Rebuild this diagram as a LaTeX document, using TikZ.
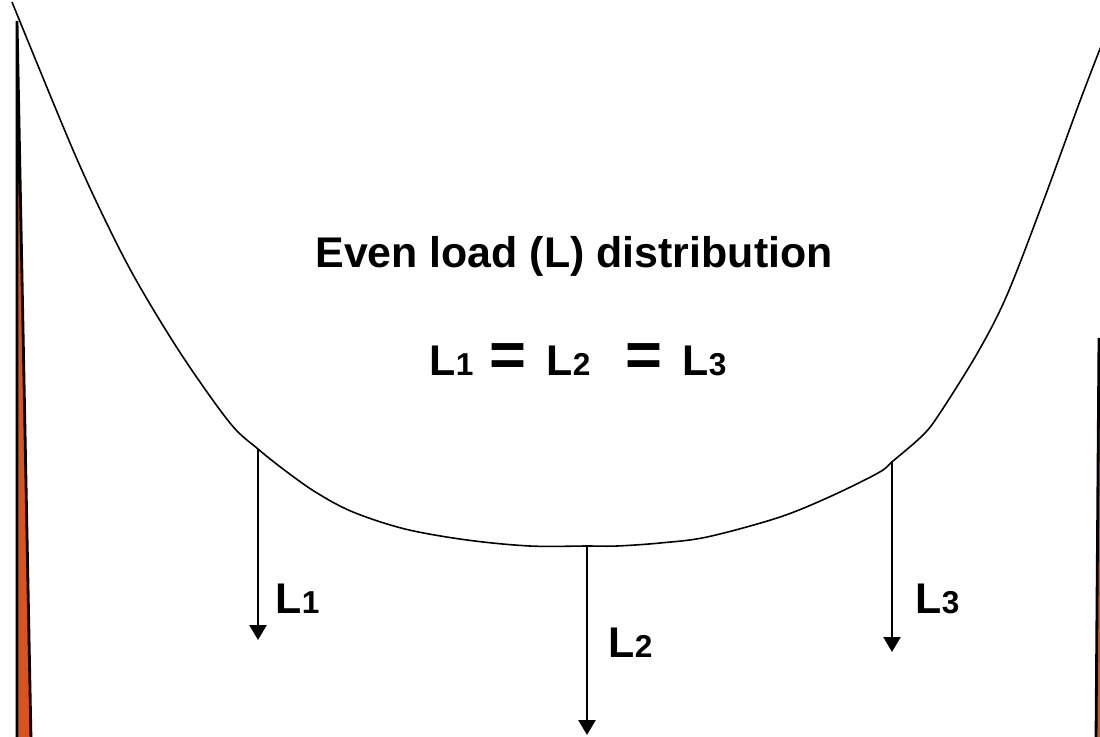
\documentclass[tikz,border=0pt]{standalone}
\usepackage{fontspec}
\setmainfont{Liberation Sans}
\usetikzlibrary{arrows.meta, positioning}
\definecolor{postorange}{RGB}{217,83,30}
\newcommand{\lsub}[1]{L{\fontsize{9}{10}\selectfont #1}}

\begin{document}
\begin{tikzpicture}[
    x=0.01cm, y=-0.01cm,
    load/.style={-{Triangle[width=1.7mm, length=1.5mm]}, line width=0.7pt},
    cable/.style={line width=0.45pt},
    post/.style={draw=black, line width=0.8pt, fill=postorange},
    lbl/.style={inner sep=0pt, anchor=base west, font=\bfseries\fontsize{12.2}{14}\selectfont},
    eqsign/.style={inner sep=0pt, anchor=base west, font=\bfseries\fontsize{18}{20}\selectfont},
]
\path[use as bounding box, clip] (0,0) rectangle (1100,736);

% posts
\draw[post] (17,21) -- (17,740) -- (31,740) -- cycle;
\draw[post] (1099,338) -- (1096,740) -- (1110,740) -- cycle;

% sagging cable
\draw[cable] plot[smooth, tension=0.55] coordinates {
    (12,2) (73,150) (110,230) (140,287) (183,357) (230,423) (258,449)
    (287,472) (317,493) (353,512) (405,529) (467,540) (530,546)
    (587,546) (617,546) (660,543) (707,537) (777,518) (827,498)
    (878,473) (893,461) (923,435) (940,413) (978,352) (1007,295)
    (1043,202) (1080,101) (1105,36)};

\coordinate (top1) at (258,449);
\coordinate (top2) at (587,546);
\coordinate (top3) at (892,461);
\coordinate (end1) at (258,640);
\coordinate (end2) at (587,735);
\coordinate (end3) at (892,652);

% loads
\draw[load] (top1) -- (end1);
\draw[load] (top2) -- (end2);
\draw[load] (top3) -- (end3);

\node[lbl] (lab1) at (275,613) {\lsub{1}};
\node[lbl] (lab2) at (608,657) {\lsub{2}};
\node[lbl] (lab3) at (915,613) {\lsub{3}};

% title and equation
\node[lbl, anchor=base] (title) at (574,267) {Even load (L) distribution};
\node[lbl] (eq1) at (429,375) {\lsub{1}};
\node[eqsign] (eqa) at (489,376) {=};
\node[lbl] (eq2) at (546,375) {\lsub{2}};
\node[eqsign] (eqb) at (625,376) {=};
\node[lbl] (eq3) at (682,375) {\lsub{3}};
\end{tikzpicture}
\end{document}
